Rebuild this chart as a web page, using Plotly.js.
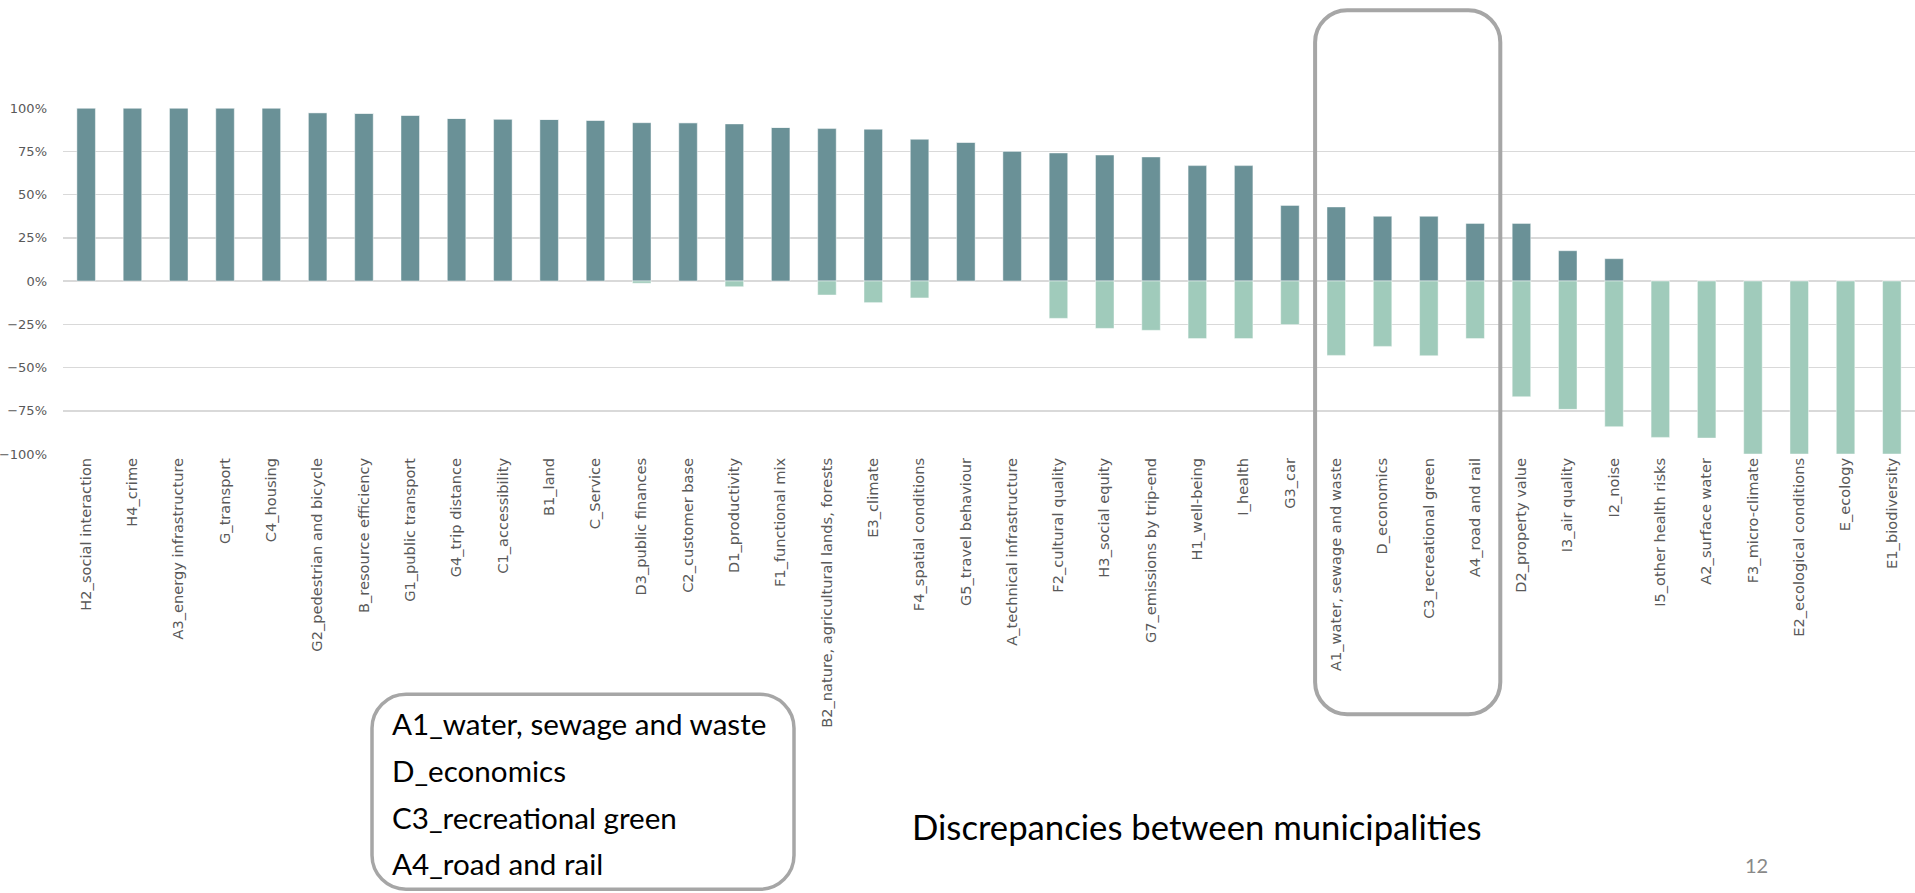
<!DOCTYPE html>
<html>
<head>
<meta charset="utf-8">
<script src="https://cdn.plot.ly/plotly-3.0.1.min.js"></script>
<style>
  html, body { margin: 0; padding: 0; background: #ffffff; }
  #chart { width: 1915px; height: 893px; }
</style>
</head>
<body>
<div id="chart"></div>
<script>
// ---- data ----
const categories = [
  "H2_social interaction", "H4_crime", "A3_energy infrastructure", "G_transport", "C4_housing",
  "G2_pedestrian and bicycle", "B_resource efficiency", "G1_public transport", "G4_trip distance", "C1_accessibility",
  "B1_land", "C_Service", "D3_public finances", "C2_customer base", "D1_productivity",
  "F1_functional mix", "B2_nature, agricultural lands, forests", "E3_climate", "F4_spatial conditions", "G5_travel behaviour",
  "A_technical infrastructure", "F2_cultural quality", "H3_social equity", "G7_emissions by trip-end", "H1_well-being",
  "I_health", "G3_car", "A1_water, sewage and waste", "D_economics", "C3_recreational green",
  "A4_road and rail", "D2_property value", "I3_air quality", "I2_noise", "I5_other health risks",
  "A2_surface water", "F3_micro-climate", "E2_ecological conditions", "E_ecology", "E1_biodiversity"
];
const positiveShare = [
  1.00, 1.00, 1.00, 1.00, 1.00,
  0.973, 0.969, 0.958, 0.940, 0.936,
  0.934, 0.929, 0.915, 0.915, 0.908,
  0.888, 0.881, 0.877, 0.819, 0.802,
  0.751, 0.740, 0.728, 0.717, 0.667,
  0.667, 0.437, 0.428, 0.374, 0.374,
  0.333, 0.333, 0.175, 0.129, 0,
  0, 0, 0, 0, 0
];
const negativeShare = [
  0, 0, 0, 0, 0,
  0, 0, 0, 0, 0,
  0, 0, -0.013, 0, -0.033,
  0, -0.081, -0.125, -0.098, 0,
  0, -0.216, -0.274, -0.285, -0.333,
  -0.333, -0.252, -0.430, -0.378, -0.432,
  -0.333, -0.669, -0.742, -0.842, -0.904,
  -0.908, -1.00, -1.00, -1.00, -1.00
];
const yTickVals = [-1, -0.75, -0.5, -0.25, 0, 0.25, 0.5, 0.75, 1];
const highlighted = ["A1_water, sewage and waste", "D_economics", "C3_recreational green", "A4_road and rail"];
const chartTitle = "Discrepancies between municipalities";
const pageNumber = "12";

// ---- geometry helpers (pixel -> paper) ----
const W = 1915, H = 893;
const M = { l: 63, r: 0, t: 107.7, b: 439.3 };
const PW = W - M.l - M.r, PH = H - M.t - M.b;
const px = v => (v - M.l) / PW;
const py = v => (H - M.b - v) / PH;
function rrect(x0, y0, x1, y1, r) {
  const k = 0.5523 * r;
  const P = (x, y) => px(x).toFixed(5) + "," + py(y).toFixed(5);
  return "M" + P(x0 + r, y0) +
    " L" + P(x1 - r, y0) +
    " C" + P(x1 - r + k, y0) + " " + P(x1, y0 + r - k) + " " + P(x1, y0 + r) +
    " L" + P(x1, y1 - r) +
    " C" + P(x1, y1 - r + k) + " " + P(x1 - r + k, y1) + " " + P(x1 - r, y1) +
    " L" + P(x0 + r, y1) +
    " C" + P(x0 + r - k, y1) + " " + P(x0, y1 - r + k) + " " + P(x0, y1 - r) +
    " L" + P(x0, y0 + r) +
    " C" + P(x0, y0 + r - k) + " " + P(x0 + r - k, y0) + " " + P(x0 + r, y0) + " Z";
}
const cw = PW / categories.length;
const iFirst = categories.indexOf(highlighted[0]);
const iLast = categories.indexOf(highlighted[highlighted.length - 1]);
const hbLeft = M.l + iFirst * cw + 2;
const hbRight = M.l + (iLast + 1) * cw + 2;

const traces = [
  {
    type: "bar", x: categories, y: positiveShare, name: "positive",
    marker: { color: "#6a9197", line: { color: "rgba(255,255,255,0.45)", width: 1 } },
    hoverinfo: "x+y"
  },
  {
    type: "bar", x: categories, y: negativeShare, name: "negative",
    marker: { color: "#a0cbbb", line: { color: "rgba(255,255,255,0.45)", width: 1 } },
    hoverinfo: "x+y"
  }
];

const textFont = { family: "Lato, 'Open Sans', sans-serif", size: 29.6, color: "#000000" };
const boxLines = highlighted.map((t, i) => ({
  text: t, xref: "paper", yref: "paper", x: px(390), y: py(723.5 + i * 46.7),
  xanchor: "left", yanchor: "middle", showarrow: false, font: textFont
}));

const layout = {
  width: W, height: H,
  margin: M,
  paper_bgcolor: "#ffffff", plot_bgcolor: "#ffffff",
  showlegend: false,
  barmode: "relative",
  bargap: 0.6,
  font: { family: "'DejaVu Sans', sans-serif", color: "#595959" },
  xaxis: {
    type: "category", tickangle: -90, automargin: false,
    showgrid: false, showline: false, zeroline: false, ticks: "",
    tickfont: { family: "'DejaVu Sans', sans-serif", size: 14.6, color: "#595959" }
  },
  yaxis: {
    range: [-1, 1], automargin: false, tickvals: yTickVals, tickformat: ".0%",
    showgrid: true, gridcolor: "#d9d9d9", gridwidth: 1.5,
    zeroline: true, zerolinecolor: "#d9d9d9", zerolinewidth: 1.5,
    showline: false, ticks: "", ticklabelstandoff: 15,
    tickfont: { family: "'DejaVu Sans', sans-serif", size: 13, color: "#595959" }
  },
  shapes: [
    { type: "path", xref: "paper", yref: "paper", path: rrect(hbLeft, 10, hbRight, 714, 32),
      line: { color: "#a6a6a6", width: 4 }, fillcolor: "rgba(0,0,0,0)", layer: "above" },
    { type: "path", xref: "paper", yref: "paper", path: rrect(372, 694, 794, 889, 34),
      line: { color: "#a6a6a6", width: 3.5 }, fillcolor: "rgba(0,0,0,0)", layer: "above" }
  ],
  annotations: boxLines.concat([
    { text: chartTitle, xref: "paper", yref: "paper", x: px(1196.5), y: py(826),
      xanchor: "center", yanchor: "middle", showarrow: false,
      font: { family: "Lato, 'Open Sans', sans-serif", size: 34.7, color: "#000000" } },
    { text: pageNumber, xref: "paper", yref: "paper", x: px(1756), y: py(865),
      xanchor: "center", yanchor: "middle", showarrow: false,
      font: { family: "Lato, 'Open Sans', sans-serif", size: 20, color: "#898989" } }
  ])
};

Plotly.newPlot("chart", traces, layout, { displayModeBar: false, staticPlot: true });
</script>
</body>
</html>
